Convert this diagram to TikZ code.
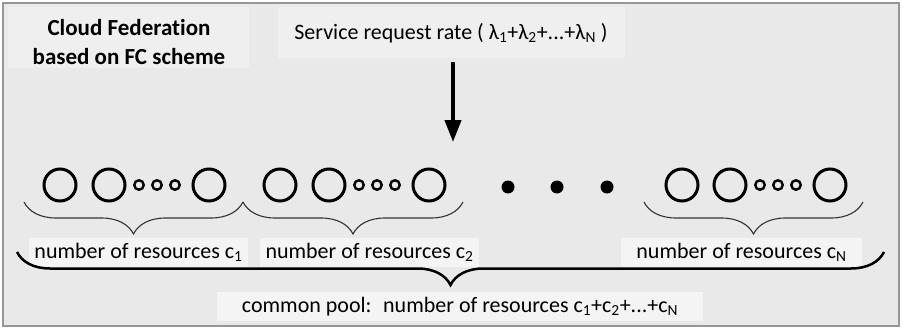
\documentclass[tikz,border=0pt]{standalone}
\usepackage{fontspec}
\setmainfont{Carlito}[Ligatures=NoCommon]
\usepackage{tikz}
\usetikzlibrary{arrows.meta, positioning, decorations.pathreplacing}
\definecolor{panelgray}{RGB}{233,233,233}
\definecolor{hintgray}{RGB}{239,239,239}
\definecolor{boxgray}{RGB}{244,244,244}
\definecolor{framegray}{RGB}{150,150,150}
\tikzset{
  bigres/.style={draw, circle, line width=3pt, minimum size=32pt, inner sep=0pt},
  smallres/.style={draw, circle, line width=2.4pt, minimum size=9.5pt, inner sep=0pt},
  moredot/.style={fill, circle, minimum size=13pt, inner sep=0pt},
  countlab/.style={fill=boxgray, minimum height=29pt, inner sep=0pt, font=\fontsize{22}{26}\selectfont},
  grpbrace/.style={decorate, decoration={brace, mirror, amplitude=32pt}, line width=1.1pt, black!80},
  poolbrace/.style={decorate, decoration={brace, mirror, amplitude=33pt}, line width=2.5pt},
}

\begin{document}
\begin{tikzpicture}[x=1pt, y=-1pt]
  \useasboundingbox (0,0) rectangle (903,329);
  \draw[framegray, line width=2pt, fill=panelgray] (3,3) rectangle (899,326);

  % headings
  \node[fill=hintgray, minimum width=241pt, minimum height=61pt] (titlebg) at (128,38) {};
  \node[align=center, font=\fontsize{23}{29}\selectfont\bfseries] (title) at (129,42) {Cloud Federation\\based on FC scheme};
  \node[fill=hintgray, minimum width=347pt, minimum height=51pt, font=\fontsize{22}{26}\selectfont] (rate) at (451,33)
    {Service request rate ( λ\textsubscript{1}+λ\textsubscript{2}+...+λ\textsubscript{N} )};

  % request arrow
  \coordinate (arrtop) at (453,62);
  \coordinate (arrtip) at (453,142);
  \draw[line width=4pt, -{Triangle[length=22pt, width=16pt]}] (arrtop) -- (arrtip);

  % cloud 1
  \node[bigres] (a1) at (60,185) {};
  \node[bigres] (a2) at (109,185) {};
  \node[smallres] (a3) at (139,185) {};
  \node[smallres] (a4) at (157,185) {};
  \node[smallres] (a5) at (175,185) {};
  \node[bigres] (a6) at (209,185) {};
  % cloud 2
  \node[bigres] (b1) at (280,185) {};
  \node[bigres] (b2) at (329,185) {};
  \node[smallres] (b3) at (359,185) {};
  \node[smallres] (b4) at (377,185) {};
  \node[smallres] (b5) at (395,185) {};
  \node[bigres] (b6) at (429,185) {};
  % other clouds
  \node[moredot] (d1) at (508,187) {};
  \node[moredot] (d2) at (557,187) {};
  \node[moredot] (d3) at (607,187) {};
  % cloud N
  \node[bigres] (n1) at (682,185) {};
  \node[bigres] (n2) at (730,185) {};
  \node[smallres] (n3) at (760,185) {};
  \node[smallres] (n4) at (778,185) {};
  \node[smallres] (n5) at (796,185) {};
  \node[bigres] (n6) at (830,185) {};

  % braces per cloud
  \draw[grpbrace] (24,202) -- (243,202);
  \draw[grpbrace] (243,202) -- (463,202);
  \draw[grpbrace] (644,202) -- (863,202);

  \node[countlab, minimum width=219pt] (cnt1) at (138.5,252) {number of resources c\textsubscript{1}};
  \node[countlab, minimum width=219pt] (cnt2) at (369.5,252) {number of resources c\textsubscript{2}};
  \node[countlab, minimum width=241pt] (cntN) at (741.5,252) {number of resources c\textsubscript{N}};

  % common pool
  \draw[poolbrace] (17,252) -- (884,252);
  \node[countlab, minimum width=486pt] (pool) at (460,306.5)
    {common pool:~ number of resources c\textsubscript{1}+c\textsubscript{2}+...+c\textsubscript{N}};
\end{tikzpicture}
\end{document}
